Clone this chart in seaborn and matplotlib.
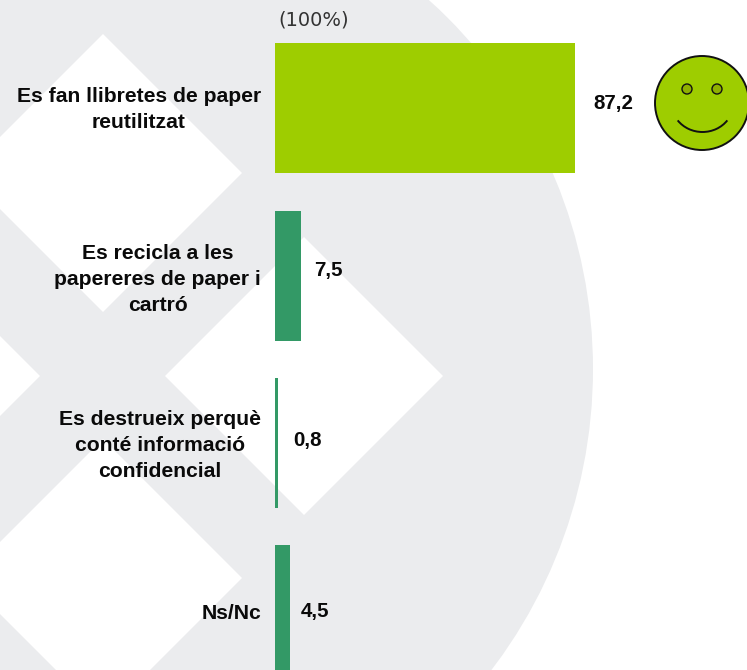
import matplotlib
matplotlib.use("Agg")
import matplotlib.pyplot as plt
from matplotlib.patches import Circle, Polygon, Arc
from matplotlib.transforms import Affine2D, ScaledTranslation
import seaborn as sns
import pandas as pd

categories = ["Es fan llibretes de paper\nreutilitzat",
              "Es recicla a les\npapereres de paper i\ncartró",
              "Es destrueix perquè\nconté informació\nconfidencial",
              "Ns/Nc"]
values = [87.2, 7.5, 0.8, 4.5]
value_labels = ["87,2", "7,5", "0,8", "4,5"]
bar_colors = ["#9ECD00", "#339966", "#339966", "#339966"]
label_offsets_px = [(18, 5), (13, 5), (15, 3), (10, -1)]
tick_shift_px = [4, 2, 3.5, -1]
base_label = "(100%)"

W, H = 747, 670
AX_LEFT = 275
sns.set_theme(style="white")
plt.rcParams["font.family"] = ["Liberation Sans", "DejaVu Sans"]

fig = plt.figure(figsize=(W / 100, H / 100), dpi=100, facecolor="white")
ax = fig.add_axes([AX_LEFT / W, 0, (W - AX_LEFT) / W, 1], zorder=3)
ax.patch.set_alpha(0)

# pixel coordinates with origin top-left, for decoration only
px = Affine2D().scale(1, -1).translate(0, H)
GREY = "#EBECEE"
fig.patches.append(Circle((96, 369), 497, fc=GREY, ec="none", transform=px, zorder=0))
for cx, cy in [(103, 173), (304, 376), (-99, 376), (103, 578)]:
    d = 139
    fig.patches.append(Polygon([(cx - d, cy), (cx, cy - d), (cx + d, cy), (cx, cy + d)],
                               closed=True, fc="white", ec="none", transform=px, zorder=1))

df = pd.DataFrame({"cat": categories, "val": values})
sns.barplot(data=df, y="cat", x="val", hue="cat", palette=bar_colors, legend=False,
            width=0.777, saturation=1, ax=ax, linewidth=0, edgecolor="none")

xscale = 3.44
ax.set_xlim(0, (W - AX_LEFT) / xscale)
ax.set_ylim((H - 108.3) / 167.4, -108.3 / 167.4)
ax.set_xlabel("")
ax.set_ylabel("")
ax.set_xticks([])
ax.tick_params(axis="y", length=0, pad=10)
for lab, dy in zip(ax.get_yticklabels(), tick_shift_px):
    lab.set_fontsize(15.2)
    lab.set_fontweight("bold")
    lab.set_color("#0A0A0A")
    lab.set_multialignment("center")
    lab.set_linespacing(1.47)
    lab.set_transform(lab.get_transform() + ScaledTranslation(0, dy * 0.72 / 72, fig.dpi_scale_trans))
sns.despine(ax=ax, left=True, bottom=True, top=True, right=True)

for i, (v, t, off) in enumerate(zip(values, value_labels, label_offsets_px)):
    ax.annotate(t, xy=(v, i), xytext=(off[0] * 0.72, off[1] * 0.72), textcoords="offset points",
                ha="left", va="center", fontsize=14.8, fontweight="bold", color="#0A0A0A")

fig.text(278 / W, 1 - 20 / H, base_label, family="DejaVu Sans", fontsize=14.0,
         color="#333333", ha="left", va="center")

# smiley
fc = "#9ECD00"
fig.patches.append(Circle((702, 103), 47, fc=fc, ec="#111111", lw=1.4, transform=px, zorder=4))
for ex in (687, 717):
    fig.patches.append(Circle((ex, 89), 5, fc="#8FB000", ec="#111111", lw=1.0, transform=px, zorder=5))
fig.patches.append(Arc((702.5, 103), 62, 58, theta1=35, theta2=145, ec="#111111", lw=1.4,
                       transform=px, zorder=5))

fig.savefig("out.png", dpi=100)
